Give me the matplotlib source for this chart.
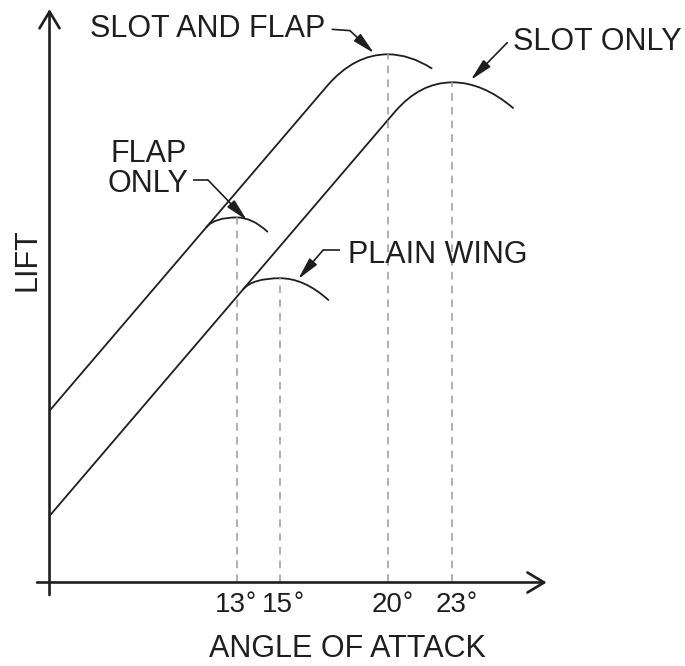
import matplotlib
matplotlib.use("Agg")
import matplotlib.pyplot as plt
from matplotlib.path import Path
from matplotlib.patches import PathPatch

# ---------------- data (angle in degrees, lift in arbitrary units) ----------------
series = ["SLOT AND FLAP", "SLOT ONLY", "FLAP ONLY", "PLAIN WING"]
base_line = [0, 1, 0, 1]            # 0 = upper straight line, 1 = lower straight line
line_start_angle = 4.30
line_start_lift = [7.97, 3.09]
lift_slope = 1.17
bend_angle = [17.18, 20.33, 11.59, 13.29]
stall_angle = [20, 23, 13, 15]
max_lift = [24.51, 23.21, 16.94, 14.12]
end_angle = [22.03, 25.81, 14.41, 17.24]
end_lift = [23.86, 22.02, 16.28, 13.11]
tick_angles = [13, 15, 20, 23]
tick_labels = ["13", "15", "20", "23"]

# ---------------- figure ----------------
INK = "#1e1e1e"
FONT = "Liberation Sans"
FS = 22

fig = plt.figure(figsize=(6.85, 6.66), dpi=100)
ax = fig.add_axes([0, 0, 1, 1])
ax.set_xlim(2.002, 33.79)
ax.set_ylim(-3.875, 27.03)
ax.axis("off")

# axes with open arrowheads
axis_arrow = dict(arrowstyle="->,head_length=0.6,head_width=0.36", lw=1.9,
                  color=INK, shrinkA=0, shrinkB=0, mutation_scale=20)
ax.annotate("", xy=(line_start_angle, 26.61), xytext=(line_start_angle, -0.58),
            arrowprops=axis_arrow)
ax.annotate("", xy=(27.37, 0), xytext=(3.72, 0), arrowprops=axis_arrow)

# lift curves
for i, name in enumerate(series):
    b = base_line[i]
    l0 = line_start_lift[b]
    bend_lift = l0 + lift_slope * (bend_angle[i] - line_start_angle)
    ctrl1_x = line_start_angle + (max_lift[i] - l0) / lift_slope
    ctrl2_x = (stall_angle[i] + end_angle[i]) / 2
    verts, codes = [], []
    if i < 2:
        verts += [(line_start_angle, l0), (bend_angle[i], bend_lift)]
        codes += [Path.MOVETO, Path.LINETO]
    else:
        verts += [(bend_angle[i], bend_lift)]
        codes += [Path.MOVETO]
    verts += [(ctrl1_x, max_lift[i]), (stall_angle[i], max_lift[i]),
              (ctrl2_x, max_lift[i]), (end_angle[i], end_lift[i])]
    codes += [Path.CURVE3] * 4
    ax.add_patch(PathPatch(Path(verts, codes), fill=False, lw=1.3,
                           edgecolor=INK, capstyle="round"))

# dashed stall lines
for a, m in zip(stall_angle, max_lift):
    ax.plot([a, a], [0, m], ls=(0, (5, 4)), color="#9a9a9a", lw=1.1)

# tick labels: digits plus a small degree mark
for a, t in zip(tick_angles, tick_labels):
    dx = -0.32 if a == 13 else (-0.12 if a == 15 else -0.05)
    txt = ax.text(a + dx, -1.37, t, ha="center", va="baseline", fontsize=20,
                  family=FONT, color=INK)
    ax.annotate("°", xy=(1, 0), xycoords=txt, xytext=(0.0, 5.8),
                textcoords="offset points", ha="left", va="baseline",
                fontsize=18, family=FONT, color=INK)

# axis titles
ax.text(18.13, -3.47, "ANGLE OF ATTACK", ha="center", va="baseline",
        fontsize=FS, family=FONT, color=INK)
ax.text(3.64, 14.97, "LIFT", rotation=90, rotation_mode="anchor",
        ha="center", va="baseline", fontsize=FS, family=FONT, color=INK)

# curve labels with leaders
lead_arrow = dict(arrowstyle="-|>,head_length=0.9,head_width=0.2", lw=1.2,
                  color=INK, shrinkA=0, shrinkB=0, mutation_scale=15)

def leader(points, tip):
    xs = [p[0] for p in points]
    ys = [p[1] for p in points]
    if len(points) > 1:
        ax.plot(xs, ys, color=INK, lw=1.2, solid_capstyle="butt")
    ax.annotate("", xy=tip, xytext=points[-1], arrowprops=lead_arrow)

ax.text(6.18, 25.31, "SLOT AND FLAP", ha="left", va="baseline", fontsize=FS,
        family=FONT, color=INK)
leader([(17.39, 25.67), (18.24, 25.61)], (19.36, 24.56))

ax.text(25.83, 24.71, "SLOT ONLY", ha="left", va="baseline", fontsize=FS,
        family=FONT, color=INK)
leader([(25.54, 25.05)], (23.85, 23.32))

ax.text(7.11, 19.51, "FLAP", ha="left", va="baseline", fontsize=FS,
        family=FONT, color=INK)
ax.text(7.01, 18.10, "ONLY", ha="left", va="baseline", fontsize=FS,
        family=FONT, color=INK)
leader([(10.96, 18.68), (11.65, 18.68)], (13.46, 16.81))

ax.text(18.15, 14.83, "PLAIN WING", ha="left", va="baseline", fontsize=FS,
        family=FONT, color=INK)
leader([(17.78, 15.43), (17.0, 15.43)], (15.84, 14.08))

fig.savefig("out.png", dpi=100)
